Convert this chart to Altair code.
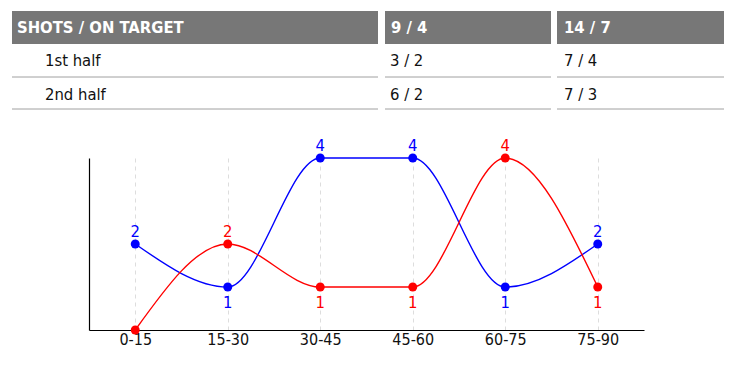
import altair as alt
import pandas as pd

# ---- data ----
periods = ["0-15", "15-30", "30-45", "45-60", "60-75", "75-90"]
blue_values = [2, 1, 4, 4, 1, 2]
red_values = [0, 2, 1, 1, 4, 1]

table_header = ["SHOTS / ON TARGET", "9 / 4", "14 / 7"]
row_labels = ["1st half", "2nd half"]
blue_shots = ["3 / 2", "6 / 2"]
red_shots = ["7 / 4", "7 / 3"]

# ---- layout / style constants ----
FONT = "DejaVu Sans Condensed"
BLUE = "#0000ff"
RED = "#ff0000"
TABLE_W = 712
TABLE_H = 99
col_start = [0, 373, 545]
col_end = [366, 539, 712]
header_text_x = [5, 379, 552]
row_text_x = [33, 378, 552]
header_bottom = 33
row_bottom = [66, 98]
header_mid = 17
row_mid = [50, 84]
CHART_W = 632
PLOT_LEFT = 77

# ---- table frames ----
header_df = pd.DataFrame({
    "text": table_header,
    "x0": col_start, "x1": col_end,
    "tx": header_text_x,
    "y0": [0] * 3, "y1": [header_bottom] * 3, "ty": [header_mid] * 3,
})
cells = []
for r, lab in enumerate(row_labels):
    texts = [lab, blue_shots[r], red_shots[r]]
    for c in range(3):
        cells.append({"text": texts[c], "x0": col_start[c], "x1": col_end[c],
                      "tx": row_text_x[c], "yl": row_bottom[r], "ty": row_mid[r]})
cells_df = pd.DataFrame(cells)

xs = alt.Scale(domain=[0, TABLE_W], nice=False, zero=False)
ys = alt.Scale(domain=[0, TABLE_H], nice=False, zero=False, reverse=True)

hdr_rect = alt.Chart(header_df).mark_rect(color="#777777").encode(
    x=alt.X("x0:Q", scale=xs, axis=None), x2="x1:Q",
    y=alt.Y("y0:Q", scale=ys, axis=None), y2="y1:Q",
)
hdr_text = alt.Chart(header_df).mark_text(
    align="left", baseline="middle", font=FONT, fontSize=16.5, fontWeight="bold", color="white"
).encode(
    x=alt.X("tx:Q", scale=xs, axis=None), y=alt.Y("ty:Q", scale=ys, axis=None), text="text:N"
)
row_rule = alt.Chart(cells_df).mark_rule(color="#a0a0a0", strokeWidth=1).encode(
    x=alt.X("x0:Q", scale=xs, axis=None), x2="x1:Q",
    y=alt.Y("yl:Q", scale=ys, axis=None),
)
row_text = alt.Chart(cells_df).mark_text(
    align="left", baseline="middle", font=FONT, fontSize=16.5, color="#111111"
).encode(
    x=alt.X("tx:Q", scale=xs, axis=None), y=alt.Y("ty:Q", scale=ys, axis=None), text="text:N"
)
table = alt.layer(hdr_rect, hdr_text, row_rule, row_text).properties(width=TABLE_W, height=TABLE_H)

# ---- line chart ----
rows = []
for i, p in enumerate(periods):
    for team, vals, other in (("blue", blue_values, red_values), ("red", red_values, blue_values)):
        v = vals[i]
        rows.append({
            "period": p, "team": team, "value": v,
            "label": str(v) if v > 0 else "",
            "pos": "above" if v >= other[i] else "below",
        })
df = pd.DataFrame(rows)

color = alt.Color("team:N", scale=alt.Scale(domain=["blue", "red"], range=[BLUE, RED]), legend=None)
x = alt.X("period:N", sort=periods, title=None,
          scale=alt.Scale(type="point", padding=0.5, range=[PLOT_LEFT, CHART_W]),
          axis=alt.Axis(labelAngle=0, labelFont=FONT, labelFontSize=16, labelColor="#111111",
                        ticks=False, domainColor="#000000", domainWidth=1.2, labelPadding=1,
                        grid=True, gridDash=[4, 4], gridColor="#dddddd"))
y = alt.Y("value:Q", title=None, scale=alt.Scale(domain=[0, 4], nice=False),
          axis=alt.Axis(labels=False, ticks=False, grid=False, domainColor="#000000",
                        domainWidth=1.2, offset=-PLOT_LEFT))

base = alt.Chart(df)
lines = base.mark_line(interpolate="monotone", strokeWidth=1.4).encode(x=x, y=y, color=color, detail="team:N")
pts = base.mark_circle(size=80, opacity=1).encode(x=x, y=y, color=color)
above = base.transform_filter("datum.pos == 'above'").mark_text(
    baseline="alphabetic", dy=-7, font=FONT, fontSize=16.5).encode(x=x, y=y, color=color, text="label:N")
below = base.transform_filter("datum.pos == 'below'").mark_text(
    baseline="alphabetic", dy=21, font=FONT, fontSize=16.5).encode(x=x, y=y, color=color, text="label:N")

line_chart = alt.layer(lines, pts, above, below).properties(width=CHART_W, height=172)

chart = alt.vconcat(table, line_chart, spacing=28).properties(
    padding={"left": 3, "top": 3, "right": 0, "bottom": 0}
).configure(background="white").configure_view(stroke=None)

chart.save("out.html", embed_options={"renderer": "svg", "actions": False})
